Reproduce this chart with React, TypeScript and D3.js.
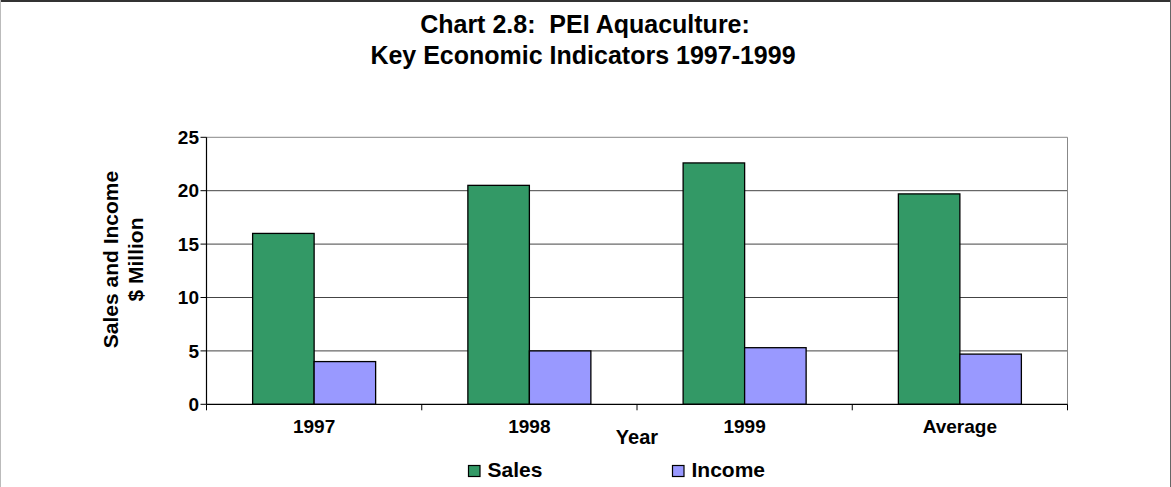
import React from "react";
import * as d3 from "d3";

const categories = ["1997", "1998", "1999", "Average"];
const sales = [16.0, 20.5, 22.6, 19.7];
const income = [4.0, 5.0, 5.3, 4.7];
const yTicks = [0, 5, 10, 15, 20, 25];
const seriesNames = ["Sales", "Income"];
const seriesColors = ["#339966", "#9999FF"];

const W = 1171;
const H = 487;
const plot = { left: 206.5, right: 1067.5, top: 137.3, bottom: 404.3 };
const FONT = "'Liberation Sans', Arial, sans-serif";

export default function App() {
  const x = d3.scaleBand<string>().domain(categories).range([plot.left, plot.right]).paddingInner(0).paddingOuter(0);
  const bw = x.bandwidth();
  const barW = bw / 3.5;
  const sub = d3.scaleBand<number>().domain([0, 1]).range([bw * 0.75 / 3.5, bw * 0.75 / 3.5 + 2 * barW]);
  const y = d3.scaleLinear().domain([0, 25]).range([plot.bottom, plot.top]);
  const series = [sales, income];
  const boundaries = categories.map((c) => x(c) as number).concat([plot.right]);

  return (
    <svg width={W} height={H} style={{ position: "absolute", left: 0, top: 0, background: "#fff" }} fontFamily={FONT}>
      <rect x={0} y={0} width={W} height={H} fill="#fff" />
      {/* page borders */}
      <line x1={0} y1={1} x2={W} y2={1} stroke="#333" strokeWidth={2} />
      <line x1={0.5} y1={0} x2={0.5} y2={H} stroke="#bbb" strokeWidth={1} />
      <line x1={W - 0.5} y1={0} x2={W - 0.5} y2={H} stroke="#666" strokeWidth={1} />

      {/* title */}
      <text x={585} y={33} textAnchor="middle" fontWeight="bold" fontSize={25} style={{ whiteSpace: "pre" }}>
        {"Chart 2.8:  PEI Aquaculture:"}
      </text>
      <text x={583} y={64} textAnchor="middle" fontWeight="bold" fontSize={25}>
        Key Economic Indicators 1997-1999
      </text>

      {/* gridlines */}
      {yTicks.filter((t) => t > 0 && t < 25).map((t) => (
        <line key={t} x1={plot.left} x2={plot.right} y1={y(t)} y2={y(t)} stroke="#444" strokeWidth={1} />
      ))}
      {/* plot border top/right */}
      <line x1={plot.left} x2={plot.right} y1={plot.top} y2={plot.top} stroke="#888" strokeWidth={1} />
      <line x1={plot.right} x2={plot.right} y1={plot.top} y2={plot.bottom} stroke="#888" strokeWidth={1} />

      {/* bars */}
      {categories.map((c, i) => (
        <g key={c} transform={`translate(${x(c)},0)`}>
          {series.map((s, j) => (
            <rect
              key={j}
              x={sub(j)}
              y={y(s[i])}
              width={sub.bandwidth()}
              height={y(0) - y(s[i])}
              fill={seriesColors[j]}
              stroke="#000"
              strokeWidth={1.3}
            />
          ))}
        </g>
      ))}

      {/* axes */}
      <line x1={plot.left} x2={plot.left} y1={plot.top} y2={plot.bottom} stroke="#000" strokeWidth={1.2} />
      <line x1={plot.left} x2={plot.right} y1={plot.bottom} y2={plot.bottom} stroke="#000" strokeWidth={1.2} />
      {yTicks.map((t) => (
        <g key={t}>
          <line x1={plot.left - 6} x2={plot.left} y1={y(t)} y2={y(t)} stroke="#000" strokeWidth={1} />
          <text x={199} y={y(t)} dy="0.35em" textAnchor="end" fontWeight="bold" fontSize={19}>
            {t}
          </text>
        </g>
      ))}
      {boundaries.map((b, i) => (
        <line key={i} x1={b} x2={b} y1={plot.bottom} y2={plot.bottom + 6} stroke="#000" strokeWidth={1} />
      ))}
      {categories.map((c) => (
        <text key={c} x={(x(c) as number) + bw / 2} y={433} textAnchor="middle" fontWeight="bold" fontSize={19}>
          {c}
        </text>
      ))}

      {/* axis titles */}
      <text x={(plot.left + plot.right) / 2} y={444} textAnchor="middle" fontWeight="bold" fontSize={20}>
        Year
      </text>
      <g transform="translate(118,259.5) rotate(-90)">
        <text x={0} y={0} textAnchor="middle" fontWeight="bold" fontSize={21}>Sales and Income</text>
        <text x={0} y={25} textAnchor="middle" fontWeight="bold" fontSize={21}>$ Million</text>
      </g>

      {/* legend */}
      {seriesNames.map((n, j) => {
        const lx = [468.5, 672.5][j];
        return (
          <g key={n}>
            <rect x={lx} y={465.5} width={11.5} height={11} fill={seriesColors[j]} stroke="#000" strokeWidth={1.2} />
            <text x={lx + 19} y={477.3} fontWeight="bold" fontSize={21}>{n}</text>
          </g>
        );
      })}
    </svg>
  );
}
